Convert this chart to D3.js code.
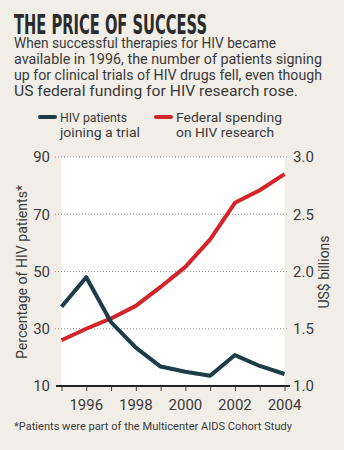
<!DOCTYPE html>
<html>
<head>
<meta charset="utf-8">
<script src="https://cdn.jsdelivr.net/npm/d3@7"></script>
<style>
  body { margin: 0; background: #f1eee8; }
  svg { display: block; }
  text { font-family: Roboto, "DejaVu Sans", sans-serif; fill: #3a3a3a; }
</style>
</head>
<body>
<svg></svg>
<script>
const width = 344;
const height = 450;

const years = [1995, 1996, 1997, 1998, 1999, 2000, 2001, 2002, 2003, 2004];
const patients = [37.7, 48, 32.3, 23.4, 16.8, 15, 13.6, 20.8, 17, 14.2];
const spending = [1.40, 1.50, 1.59, 1.70, 1.865, 2.04, 2.28, 2.60, 2.71, 2.85];
const leftTicks = [10, 30, 50, 70, 90];
const rightTicks = [1.0, 1.5, 2.0, 2.5, 3.0];
const yearLabels = [1996, 1998, 2000, 2002, 2004];

const titleText = "THE PRICE OF SUCCESS";
const introLines = [
  "When successful therapies for HIV became",
  "available in 1996, the number of patients signing",
  "up for clinical trials of HIV drugs fell, even though",
  "US federal funding for HIV research rose."
];
const footnote = "*Patients were part of the Multicenter AIDS Cohort Study";

const blue = "#1c3d47";
const red = "#d3242a";

let svg = d3.select("svg").attr("width", width).attr("height", height);

// plot area bounds
const plotLeft = 61.5;
const plotRight = 284.5;
const plotTop = 157;
const plotBottom = 386;

const xScale = d3.scaleLinear().domain([1995, 2004]).range([plotLeft, plotRight]);
const yLeft = d3.scaleLinear().domain([10, 90]).range([plotBottom, plotTop]);
const yRight = d3.scaleLinear().domain([1.0, 3.0]).range([plotBottom, plotTop]);

// heading
svg.append("text")
  .attr("x", 14).attr("y", 34)
  .attr("textLength", 193).attr("lengthAdjust", "spacingAndGlyphs")
  .style("font-family", "'DejaVu Sans Condensed', 'Liberation Sans Narrow', 'DejaVu Sans', sans-serif")
  .style("font-stretch", "condensed")
  .style("font-weight", "bold")
  .style("font-size", "27px")
  .style("fill", "#2b2b2b")
  .text(titleText);

const introWidths = [262, 308, 308, 284];
svg.selectAll(".intro")
  .data(introLines)
  .enter()
  .append("text")
  .attr("class", "intro")
  .attr("x", 14)
  .attr("y", (d, i) => 48 + i * 16)
  .attr("textLength", (d, i) => introWidths[i])
  .attr("lengthAdjust", "spacingAndGlyphs")
  .style("font-size", "14px")
  .text((d) => d);

// legend
const legend = [
  { x: 39, lines: ["HIV patients", "joining a trial"], widths: [67, 80], color: blue },
  { x: 155, lines: ["Federal spending", "on HIV research"], widths: [106, 98], color: red }
];
legend.forEach((item) => {
  svg.append("line")
    .attr("x1", item.x + 1).attr("x2", item.x + 16)
    .attr("y1", 117).attr("y2", 117)
    .attr("stroke", item.color).attr("stroke-width", 4)
    .attr("stroke-linecap", "round");
  item.lines.forEach((t, i) => {
    svg.append("text")
      .attr("x", item.x + 21).attr("y", 122 + i * 15)
      .attr("textLength", item.widths[i]).attr("lengthAdjust", "spacingAndGlyphs")
      .style("font-size", "13.5px")
      .text(t);
  });
});

// white panel
svg.append("rect")
  .attr("x", plotLeft).attr("y", plotTop)
  .attr("width", plotRight - plotLeft).attr("height", plotBottom - plotTop)
  .attr("fill", "#ffffff");

// gridlines
svg.selectAll(".grid")
  .data(leftTicks.slice(1))
  .enter()
  .append("line")
  .attr("class", "grid")
  .attr("x1", 55).attr("x2", 288)
  .attr("y1", (d) => yLeft(d)).attr("y2", (d) => yLeft(d))
  .attr("stroke", "#8a8a8a").attr("stroke-width", 1)
  .attr("stroke-dasharray", "1,2");

// left axis labels
const leftAxis = d3.axisLeft(yLeft).tickValues(leftTicks).tickSize(0).tickPadding(0);
const gl = svg.append("g").attr("transform", "translate(50,0)").call(leftAxis);
gl.select(".domain").remove();
gl.selectAll("text").style("font-size", "15px").style("fill", "#3a3a3a")
  .style("font-family", "Roboto, 'DejaVu Sans', sans-serif");

// right axis labels
const rightAxis = d3.axisRight(yRight).tickValues(rightTicks).tickSize(0).tickPadding(0)
  .tickFormat(d3.format(".1f"));
const gr = svg.append("g").attr("transform", "translate(293,0)").call(rightAxis);
gr.select(".domain").remove();
gr.selectAll("text").style("font-size", "15px").style("fill", "#3a3a3a")
  .style("font-family", "Roboto, 'DejaVu Sans', sans-serif");

// bottom axis
const xAxis = d3.axisBottom(xScale).tickValues(years).tickSize(5).tickFormat("");
const gx = svg.append("g").attr("transform", "translate(0," + plotBottom + ")").call(xAxis);
gx.select(".domain").remove();
gx.selectAll("line").attr("stroke", "#444").attr("stroke-width", 1);
svg.append("line")
  .attr("x1", 56).attr("x2", 290)
  .attr("y1", plotBottom).attr("y2", plotBottom)
  .attr("stroke", "#222").attr("stroke-width", 2);

svg.selectAll(".year")
  .data(yearLabels)
  .enter()
  .append("text")
  .attr("class", "year")
  .attr("x", (d) => xScale(d))
  .attr("y", 410)
  .attr("text-anchor", "middle")
  .style("font-size", "15px")
  .text((d) => d);

// axis titles
svg.append("text")
  .attr("transform", "translate(27,272) rotate(-90)")
  .attr("text-anchor", "middle")
  .attr("textLength", 174).attr("lengthAdjust", "spacingAndGlyphs")
  .style("font-size", "14px")
  .text("Percentage of HIV patients*");
svg.append("text")
  .attr("transform", "translate(329,272) rotate(-90)")
  .attr("text-anchor", "middle")
  .style("font-size", "14px")
  .text("US$ billions");

// lines
const redLine = d3.line().x((d, i) => xScale(years[i])).y((d) => yRight(d));
const blueLine = d3.line().x((d, i) => xScale(years[i])).y((d) => yLeft(d));

svg.append("path")
  .datum(spending)
  .attr("d", redLine)
  .attr("fill", "none").attr("stroke", red)
  .attr("stroke-width", 4).attr("stroke-linejoin", "round");

svg.append("path")
  .datum(patients)
  .attr("d", blueLine)
  .attr("fill", "none").attr("stroke", blue)
  .attr("stroke-width", 4).attr("stroke-linejoin", "round");

// footnote
svg.append("text")
  .attr("x", 14).attr("y", 430)
  .attr("textLength", 278).attr("lengthAdjust", "spacingAndGlyphs")
  .style("font-size", "11.5px")
  .text(footnote);
</script>
</body>
</html>
